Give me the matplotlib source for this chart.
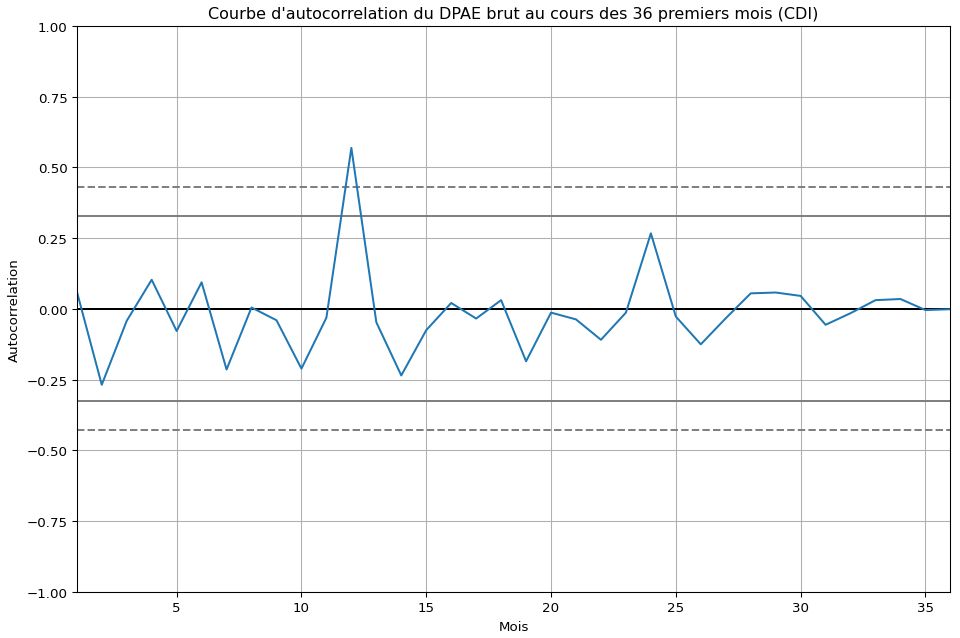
import numpy as np
import matplotlib
matplotlib.use("Agg")
import matplotlib.pyplot as plt

# autocorrelation values, lags 1..36
lags = list(range(1, 37))
acf = [0.062, -0.268, -0.042, 0.103, -0.078, 0.094, -0.214, 0.005, -0.040, -0.211,
       -0.031, 0.569, -0.047, -0.235, -0.075, 0.021, -0.034, 0.031, -0.185, -0.013,
       -0.037, -0.109, -0.013, 0.267, -0.027, -0.125, -0.033, 0.055, 0.058, 0.046,
       -0.056, -0.015, 0.031, 0.035, -0.004, -0.001]
n_obs = 36

z95 = 1.959963984540054
z99 = 2.5758293035489004

fig = plt.figure(figsize=(10, 6.656), dpi=96)
ax = fig.add_subplot(111)
fig.subplots_adjust(left=0.080, right=0.990, top=0.958, bottom=0.072)

ax.axhline(z99 / np.sqrt(n_obs), linestyle="--", color="grey")
ax.axhline(z95 / np.sqrt(n_obs), color="grey")
ax.axhline(0.0, color="black")
ax.axhline(-z95 / np.sqrt(n_obs), color="grey")
ax.axhline(-z99 / np.sqrt(n_obs), linestyle="--", color="grey")

ax.plot(lags, acf)
ax.set_xlim(1, n_obs)
ax.set_ylim(-1.0, 1.0)
ax.set_xlabel("Mois")
ax.set_ylabel("Autocorrelation")
ax.set_title("Courbe d'autocorrelation du DPAE brut au cours des 36 premiers mois (CDI)")
ax.grid()

fig.savefig("out.png", dpi=96)
